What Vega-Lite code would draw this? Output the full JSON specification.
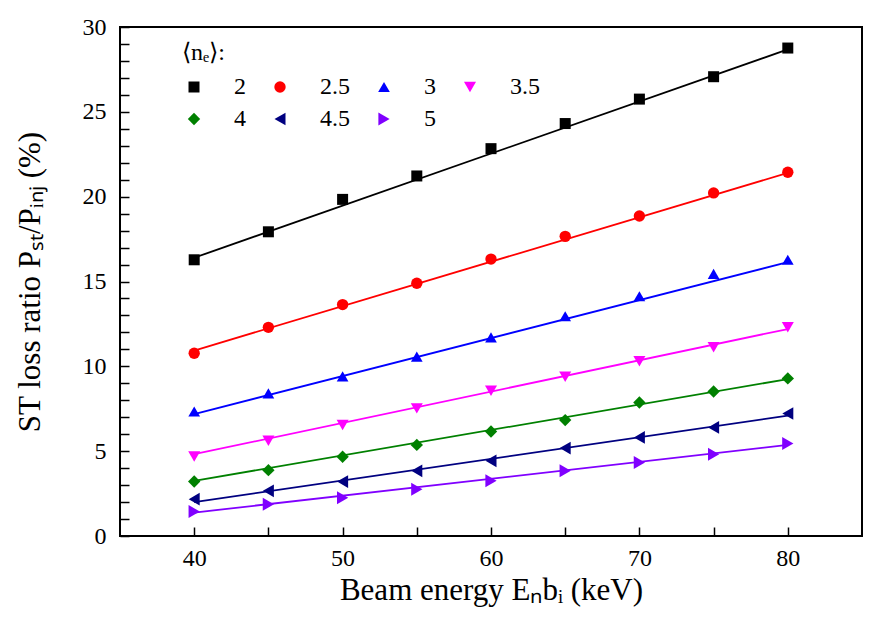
{
  "$schema": "https://vega.github.io/schema/vega-lite/v6.json",
  "width": 871,
  "height": 630,
  "autosize": {"type": "fit", "contains": "padding"},
  "padding": {"left": 14, "top": 15, "right": 9, "bottom": 25},
  "background": "white",
  "config": {
    "view": {"stroke": "black", "strokeWidth": 2},
    "font": "Liberation Serif"
  },
  "datasets": {
    "points": [
      {"n": "2", "E": 40, "v": 16.28}, {"n": "2", "E": 45, "v": 17.93}, {"n": "2", "E": 50, "v": 19.84}, {"n": "2", "E": 55, "v": 21.22}, {"n": "2", "E": 60, "v": 22.83}, {"n": "2", "E": 65, "v": 24.31}, {"n": "2", "E": 70, "v": 25.75}, {"n": "2", "E": 75, "v": 27.07}, {"n": "2", "E": 80, "v": 28.76},
      {"n": "2.5", "E": 40, "v": 10.77}, {"n": "2.5", "E": 45, "v": 12.30}, {"n": "2.5", "E": 50, "v": 13.64}, {"n": "2.5", "E": 55, "v": 14.90}, {"n": "2.5", "E": 60, "v": 16.32}, {"n": "2.5", "E": 65, "v": 17.66}, {"n": "2.5", "E": 70, "v": 18.86}, {"n": "2.5", "E": 75, "v": 20.22}, {"n": "2.5", "E": 80, "v": 21.44},
      {"n": "3", "E": 40, "v": 7.34}, {"n": "3", "E": 45, "v": 8.41}, {"n": "3", "E": 50, "v": 9.41}, {"n": "3", "E": 55, "v": 10.57}, {"n": "3", "E": 60, "v": 11.71}, {"n": "3", "E": 65, "v": 12.95}, {"n": "3", "E": 70, "v": 14.13}, {"n": "3", "E": 75, "v": 15.45}, {"n": "3", "E": 80, "v": 16.28},
      {"n": "3.5", "E": 40, "v": 4.69}, {"n": "3.5", "E": 45, "v": 5.61}, {"n": "3.5", "E": 50, "v": 6.54}, {"n": "3.5", "E": 55, "v": 7.52}, {"n": "3.5", "E": 60, "v": 8.56}, {"n": "3.5", "E": 65, "v": 9.39}, {"n": "3.5", "E": 70, "v": 10.30}, {"n": "3.5", "E": 75, "v": 11.12}, {"n": "3.5", "E": 80, "v": 12.30},
      {"n": "4", "E": 40, "v": 3.21}, {"n": "4", "E": 45, "v": 3.88}, {"n": "4", "E": 50, "v": 4.67}, {"n": "4", "E": 55, "v": 5.37}, {"n": "4", "E": 60, "v": 6.16}, {"n": "4", "E": 65, "v": 6.83}, {"n": "4", "E": 70, "v": 7.87}, {"n": "4", "E": 75, "v": 8.52}, {"n": "4", "E": 80, "v": 9.29},
      {"n": "4.5", "E": 40, "v": 2.17}, {"n": "4.5", "E": 45, "v": 2.66}, {"n": "4.5", "E": 50, "v": 3.21}, {"n": "4.5", "E": 55, "v": 3.84}, {"n": "4.5", "E": 60, "v": 4.43}, {"n": "4.5", "E": 65, "v": 5.18}, {"n": "4.5", "E": 70, "v": 5.81}, {"n": "4.5", "E": 75, "v": 6.40}, {"n": "4.5", "E": 80, "v": 7.22},
      {"n": "5", "E": 40, "v": 1.44}, {"n": "5", "E": 45, "v": 1.87}, {"n": "5", "E": 50, "v": 2.26}, {"n": "5", "E": 55, "v": 2.76}, {"n": "5", "E": 60, "v": 3.25}, {"n": "5", "E": 65, "v": 3.84}, {"n": "5", "E": 70, "v": 4.33}, {"n": "5", "E": 75, "v": 4.82}, {"n": "5", "E": 80, "v": 5.45}
    ],
    "fit": [
      {"n": "2", "E": 40, "v": 16.40}, {"n": "2", "E": 80, "v": 28.68},
      {"n": "2.5", "E": 40, "v": 10.93}, {"n": "2.5", "E": 80, "v": 21.40},
      {"n": "3", "E": 40, "v": 7.19}, {"n": "3", "E": 80, "v": 16.14},
      {"n": "3.5", "E": 40, "v": 4.82}, {"n": "3.5", "E": 80, "v": 12.20},
      {"n": "4", "E": 40, "v": 3.25}, {"n": "4", "E": 80, "v": 9.25},
      {"n": "4.5", "E": 40, "v": 2.00}, {"n": "4.5", "E": 80, "v": 7.09},
      {"n": "5", "E": 40, "v": 1.38}, {"n": "5", "E": 80, "v": 5.37}
    ]
  },
  "encoding": {
    "x": {"field": "E", "type": "quantitative", "scale": {"domain": [35, 85], "nice": false},
          "axis": {"values": [40, 45, 50, 55, 60, 65, 70, 75, 80], "labelExpr": "datum.value % 10 === 0 ? datum.label : ''",
                   "grid": false, "domain": false, "ticks": true, "tickColor": "#000000", "tickWidth": 1.5, "tickOpacity": 1,
                   "tickSize": -9,
                   "labelPadding": 19, "labelFont": "Liberation Serif", "labelFontSize": 24, "labelColor": "#000000",
                   "title": "Beam energy Eₙbᵢ (keV)", "titleFont": "Liberation Serif", "titleFontSize": 31, "titleFontWeight": "normal", "titleColor": "#000000", "titlePadding": 5}},
    "y": {"field": "v", "type": "quantitative", "scale": {"domain": [0, 30], "nice": false},
          "axis": {"values": [0, 1, 2, 3, 4, 5, 6, 7, 8, 9, 10, 11, 12, 13, 14, 15, 16, 17, 18, 19, 20, 21, 22, 23, 24, 25, 26, 27, 28, 29, 30],
                   "labelExpr": "datum.value % 5 === 0 ? datum.label : ''",
                   "grid": false, "domain": false, "ticks": true, "tickColor": "#000000", "tickWidth": 1.5, "tickOpacity": 1,
                   "tickSize": -9,
                   "labelPadding": 23, "labelFont": "Liberation Serif", "labelFontSize": 24, "labelColor": "#000000",
                   "title": "ST loss ratio Pₛₜ/Pᵢₙⱼ (%)", "titleFont": "Liberation Serif", "titleFontSize": 31, "titleFontWeight": "normal", "titleColor": "#000000", "titlePadding": 36}}
  },
  "layer": [
    {"data": {"name": "fit"}, "transform": [{"filter": "datum.n === '2'"}], "mark": {"type": "line", "strokeWidth": 1.8, "color": "#000000"}, "encoding": {}},
    {"data": {"name": "fit"}, "transform": [{"filter": "datum.n === '2.5'"}], "mark": {"type": "line", "strokeWidth": 1.8, "color": "#ff0000"}, "encoding": {}},
    {"data": {"name": "fit"}, "transform": [{"filter": "datum.n === '3'"}], "mark": {"type": "line", "strokeWidth": 1.8, "color": "#0000ff"}, "encoding": {}},
    {"data": {"name": "fit"}, "transform": [{"filter": "datum.n === '3.5'"}], "mark": {"type": "line", "strokeWidth": 1.8, "color": "#ff00ff"}, "encoding": {}},
    {"data": {"name": "fit"}, "transform": [{"filter": "datum.n === '4'"}], "mark": {"type": "line", "strokeWidth": 1.8, "color": "#008000"}, "encoding": {}},
    {"data": {"name": "fit"}, "transform": [{"filter": "datum.n === '4.5'"}], "mark": {"type": "line", "strokeWidth": 1.8, "color": "#000080"}, "encoding": {}},
    {"data": {"name": "fit"}, "transform": [{"filter": "datum.n === '5'"}], "mark": {"type": "line", "strokeWidth": 1.8, "color": "#8000ff"}, "encoding": {}},
    {
      "data": {"name": "points"},
      "mark": {"type": "point", "filled": true, "opacity": 1},
      "encoding": {
        "size": {"field": "n", "type": "nominal", "legend": null,
                 "scale": {"domain": ["2", "2.5", "3", "3.5", "4", "4.5", "5"], "range": [121, 169, 196, 196, 150, 196, 196]}},
        "color": {"field": "n", "type": "nominal",
                  "scale": {"domain": ["2", "2.5", "3", "3.5", "4", "4.5", "5"], "range": ["#000000", "#ff0000", "#0000ff", "#ff00ff", "#008000", "#000080", "#8000ff"]},
                  "legend": {"title": "⟨nₑ⟩:", "orient": "none", "legendX": 62, "legendY": 14, "columns": 4, "direction": "horizontal",
                             "titleFont": "Liberation Serif", "titleFontSize": 24, "titleFontWeight": "normal", "titleColor": "#000000",
                             "labelFont": "Liberation Serif", "labelFontSize": 24, "labelColor": "#000000",
                             "symbolSize": 130, "labelOffset": 28, "columnPadding": 22, "rowPadding": 8, "titlePadding": 10}},
        "shape": {"field": "n", "type": "nominal",
                  "scale": {"domain": ["2", "2.5", "3", "3.5", "4", "4.5", "5"], "range": ["square", "circle", "triangle-up", "triangle-down", "diamond", "triangle-left", "triangle-right"]},
                  "legend": {"title": "⟨nₑ⟩:", "orient": "none", "legendX": 62, "legendY": 14, "columns": 4, "direction": "horizontal",
                             "titleFont": "Liberation Serif", "titleFontSize": 24, "titleFontWeight": "normal", "titleColor": "#000000",
                             "labelFont": "Liberation Serif", "labelFontSize": 24, "labelColor": "#000000",
                             "symbolSize": 130, "labelOffset": 28, "columnPadding": 22, "rowPadding": 8, "titlePadding": 10}}
      }
    }
  ]
}
